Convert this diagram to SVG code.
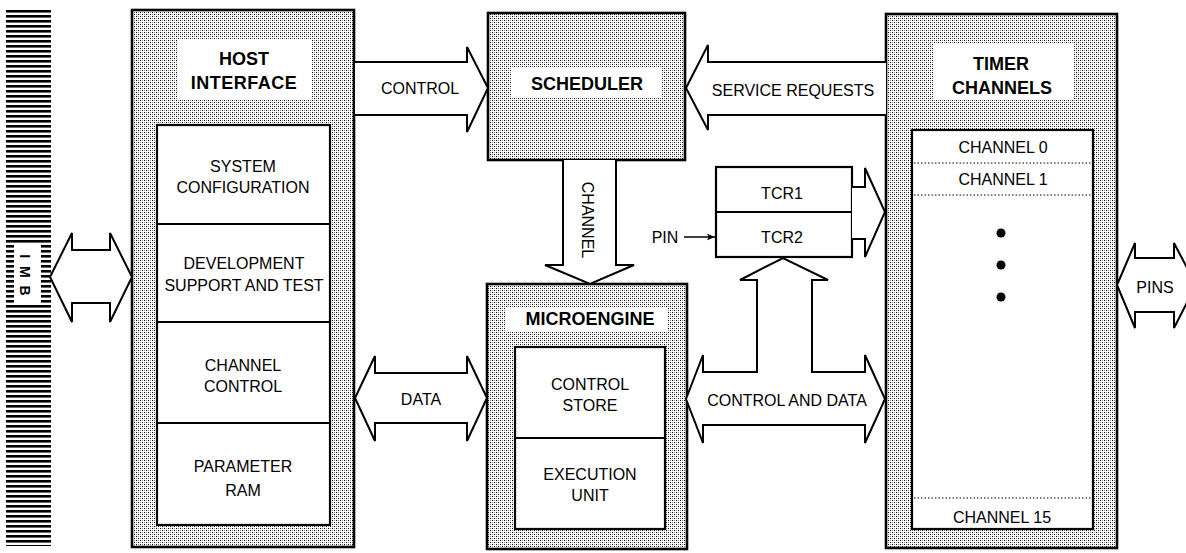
<svg xmlns="http://www.w3.org/2000/svg" width="1186" height="553" viewBox="0 0 1186 553">
<defs>
<pattern id="stip" width="4" height="4" patternUnits="userSpaceOnUse">
<rect width="4" height="4" fill="#fff"/>
<rect x="0" y="0" width="1" height="1" fill="#000"/>
<rect x="2" y="2" width="1" height="1" fill="#000"/>
<rect x="2" y="0" width="1" height="1" fill="#888"/>
<rect x="0" y="2" width="1" height="1" fill="#888"/>
</pattern>
<pattern id="stripes" width="8" height="5" patternUnits="userSpaceOnUse">
<rect width="8" height="5" fill="#fff"/>
<rect y="0" width="8" height="2.6" fill="#000"/>
</pattern>
<marker id="ah" viewBox="0 0 10 10" refX="10" refY="5" markerWidth="8" markerHeight="8" markerUnits="userSpaceOnUse" orient="auto">
<path d="M0,1 L10,5 L0,9 L2,5 Z" fill="#000"/>
</marker>
</defs>
<style>
.outer{fill:url(#stip);stroke:#000;stroke-width:2.6}
.inner{fill:#fff;stroke:#000;stroke-width:2.2}
.lbl{fill:#fff;stroke:none}
.div{stroke:#000;stroke-width:2}
.dot{stroke:#000;stroke-width:1;stroke-dasharray:1.5 2}
.arrow{fill:#fff;stroke:#000;stroke-width:2;stroke-linejoin:miter}
.t{font-family:"Liberation Sans",Arial,sans-serif;font-size:16px;fill:#000;text-anchor:middle}
.b{font-family:"Liberation Sans",Arial,sans-serif;font-size:18px;font-weight:bold;fill:#000;text-anchor:middle}
</style>
<rect width="1186" height="553" fill="#fff"/>

<g id="imb">
<rect x="6" y="9" width="45" height="537" fill="url(#stripes)"/>
<rect x="14" y="243" width="27" height="62" fill="#fff"/>
<text class="b" style="font-size:14px;letter-spacing:2px" transform="translate(20,276) rotate(90)">I M B</text>
</g>

<g id="host-interface">
<rect class="outer" x="132" y="10" width="222" height="537"/>
<rect class="lbl" x="177" y="40" width="135" height="60"/>
<text class="b" x="244" y="65">HOST</text>
<text class="b" x="244" y="89" style="letter-spacing:0.5px">INTERFACE</text>
<rect class="inner" x="157" y="125" width="173" height="400"/>
<line class="div" x1="157" y1="224" x2="330" y2="224"/>
<line class="div" x1="157" y1="322" x2="330" y2="322"/>
<line class="div" x1="157" y1="423" x2="330" y2="423"/>
<text class="t" x="243" y="172">SYSTEM</text>
<text class="t" x="243" y="193">CONFIGURATION</text>
<text class="t" x="244" y="269">DEVELOPMENT</text>
<text class="t" x="244" y="291">SUPPORT AND TEST</text>
<text class="t" x="243" y="371">CHANNEL</text>
<text class="t" x="243" y="392">CONTROL</text>
<text class="t" x="243" y="472">PARAMETER</text>
<text class="t" x="243" y="496">RAM</text>
</g>

<g id="scheduler">
<rect class="outer" x="488" y="13" width="197" height="147"/>
<rect class="lbl" x="512" y="68" width="150" height="30"/>
<text class="b" x="587" y="90">SCHEDULER</text>
</g>

<g id="microengine">
<rect class="outer" x="487" y="284" width="200" height="265"/>
<rect class="lbl" x="505" y="307" width="163" height="25"/>
<text class="b" x="590" y="325">MICROENGINE</text>
<rect class="inner" x="515" y="347" width="150" height="182"/>
<line class="div" x1="515" y1="438" x2="665" y2="438"/>
<text class="t" x="590" y="390">CONTROL</text>
<text class="t" x="590" y="411">STORE</text>
<text class="t" x="590" y="480">EXECUTION</text>
<text class="t" x="590" y="501">UNIT</text>
</g>

<g id="tcr">
<rect class="inner" x="716" y="167" width="136" height="90"/>
<line class="div" x1="716" y1="212" x2="852" y2="212"/>
<text class="t" x="782" y="199">TCR1</text>
<text class="t" x="782" y="243">TCR2</text>
</g>

<g id="timer-channels">
<rect class="outer" x="886" y="14" width="231" height="534"/>
<rect class="lbl" x="933" y="43" width="141" height="57"/>
<text class="b" x="1001" y="70">TIMER</text>
<text class="b" x="1002" y="94">CHANNELS</text>
<rect class="inner" x="912" y="130" width="181" height="399"/>
<text class="t" x="1003" y="153">CHANNEL 0</text>
<line class="dot" x1="914" y1="163" x2="1091" y2="163"/>
<text class="t" x="1003" y="185">CHANNEL 1</text>
<line class="dot" x1="914" y1="195" x2="1091" y2="195"/>
<circle cx="1001" cy="233" r="4.5" fill="#000"/>
<circle cx="1001" cy="265" r="4.5" fill="#000"/>
<circle cx="1001" cy="297" r="4.5" fill="#000"/>
<line class="dot" x1="914" y1="498" x2="1091" y2="498"/>
<text class="t" x="1002" y="523">CHANNEL 15</text>
</g>

<g id="connectors">
<polygon class="arrow" points="50,277 72,233 72,250 110,250 110,233 132,277 110,322 110,303 72,303 72,322"/>
<path class="arrow" d="M355,62 L467,62 L467,47 L488,88 L467,132 L467,115 L355,115"/>
<text class="t" x="420" y="94">CONTROL</text>
<path class="arrow" d="M886,62 L708,62 L708,45 L686,88 L708,130 L708,115 L886,115"/>
<text class="t" x="793" y="96">SERVICE REQUESTS</text>
<path class="arrow" d="M563,160 L563,265 L545,265 L590,284 L634,265 L616,265 L616,160"/>
<text class="t" transform="translate(582,220) rotate(90)">CHANNEL</text>
<path class="arrow" d="M852,187 L865,187 L865,168 L885,212 L865,257 L865,239 L852,239"/>
<polygon class="arrow" points="355,398 375,356 375,373 467,373 467,356 487,398 467,441 467,423 375,423 375,441"/>
<text class="t" x="421" y="405">DATA</text>
<polygon class="arrow" points="686,399 703,355 703,372 757,372 757,280 740,280 783,258 828,280 812,280 812,372 865,372 865,355 885,399 865,443 865,425 703,425 703,443"/>
<text class="t" x="787" y="406">CONTROL AND DATA</text>
<polygon class="arrow" points="1117,285 1135,243 1135,258 1174,258 1174,243 1196,285 1174,328 1174,312 1135,312 1135,328"/>
<text class="t" x="1155" y="293">PINS</text>
<line x1="684" y1="237" x2="715" y2="237" stroke="#000" stroke-width="1.5" marker-end="url(#ah)"/>
<text class="t" x="665" y="243">PIN</text>
</g>
</svg>
